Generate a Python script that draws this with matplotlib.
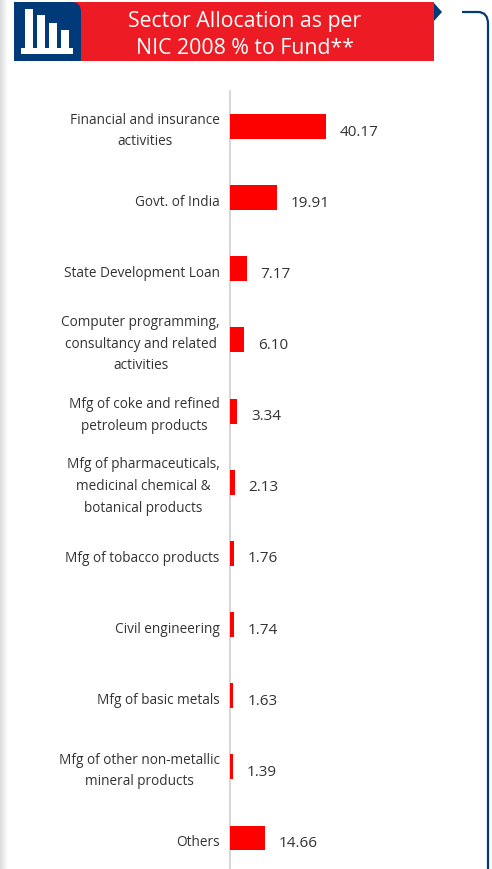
import matplotlib
matplotlib.use("Agg")
import numpy as np
from matplotlib import pyplot as plt
from matplotlib.patches import Rectangle, Polygon, PathPatch
from matplotlib.path import Path
from matplotlib.transforms import ScaledTranslation

plt.rcParams['font.family'] = ['Open Sans', 'DejaVu Sans']

# data
sectors = ["Financial and insurance\nactivities", "Govt. of India", "State Development Loan",
           "Computer programming,\nconsultancy and related\nactivities",
           "Mfg of coke and refined\npetroleum products",
           "Mfg of pharmaceuticals,\nmedicinal chemical &\nbotanical products",
           "Mfg of tobacco products", "Civil engineering", "Mfg of basic metals",
           "Mfg of other non-metallic\nmineral products", "Others"]
values = [40.17, 19.91, 7.17, 6.10, 3.34, 2.13, 1.76, 1.74, 1.63, 1.39, 14.66]
title = "Sector Allocation as per\nNIC 2008 % to Fund**"

W, H = 492, 869
fig = plt.figure(figsize=(W/100, H/100), dpi=100)

# background layer in pixel coords (y down)
bg = fig.add_axes([0, 0, 1, 1])
bg.axis('off')

# grey shade on the left edge
shade = np.linspace(0.86, 1, 64).reshape(1, -1)
bg.imshow(shade, extent=(0, 8, H, 0), cmap='gray', vmin=0, vmax=1, aspect='auto')
bg.set_xlim(0, W)
bg.set_ylim(H, 0)

navy = '#003a78'
red = '#ed1c24'
bg.add_patch(Rectangle((14, 2), 420, 59, fc=red, ec='none'))
bg.add_patch(Polygon([(434, 3), (442, 12), (434, 21)], fc=navy, ec='none'))

# icon block with the rounded top right corner
icon = Path([(14, 2), (72, 2), (81, 2), (81, 12), (81, 61), (14, 61), (14, 2)],
            [Path.MOVETO, Path.LINETO, Path.CURVE3, Path.CURVE3, Path.LINETO, Path.LINETO, Path.CLOSEPOLY])
bg.add_patch(PathPatch(icon, fc=navy, ec='none'))
for x0, top in [(25, 9), (37, 15), (49, 23), (61, 30)]:
    bg.add_patch(Rectangle((x0, top), 8, 49 - top, fc='white', ec='none'))
bg.add_patch(Rectangle((21, 48), 52, 6, fc='white', ec='none'))

bg.text(245, 35, title, color='white', fontsize=15.3, ha='center', va='center',
        multialignment='center', linespacing=1.4)

# bracket on the right
bracket = Path([(462, 12), (478, 12), (488, 12), (488, 24), (488, H)],
               [Path.MOVETO, Path.LINETO, Path.CURVE3, Path.CURVE3, Path.LINETO])
bg.add_patch(PathPatch(bracket, fc='none', ec=navy, lw=1.6))

# chart
ax = fig.add_axes([229.5/W, 0, 260/W, (H - 91)/H])
ax.patch.set_alpha(0)
y = np.arange(len(values))
ax.barh(y, values, height=0.35, color='#ff0000', zorder=3)
ax.set_xlim(0, 260/2.39)
ax.set_ylim(10.436, -0.499)
ax.set_xticks([])
ax.set_yticks(y, sectors, fontsize=9.8, color='#333333', multialignment='center', linespacing=1.6)
ax.tick_params(axis='y', length=0, pad=7)
# single line labels sit lower than the wrapped ones
for lab in ax.get_yticklabels():
    shift = 1 if '\n' in lab.get_text() else -3
    lab.set_transform(lab.get_transform() + ScaledTranslation(0, shift/100, fig.dpi_scale_trans))
for s in ['top', 'right', 'bottom']:
    ax.spines[s].set_visible(False)
ax.spines['left'].set_color('#d0d0d0')
ax.spines['left'].set_linewidth(1.2)
for i, v in zip(y, values):
    ax.annotate(f"{v:.2f}", (v, i), xytext=(10, -4), textcoords='offset points',
                va='center', fontsize=11, color='#333333')

plt.savefig("out.png", dpi=100)
